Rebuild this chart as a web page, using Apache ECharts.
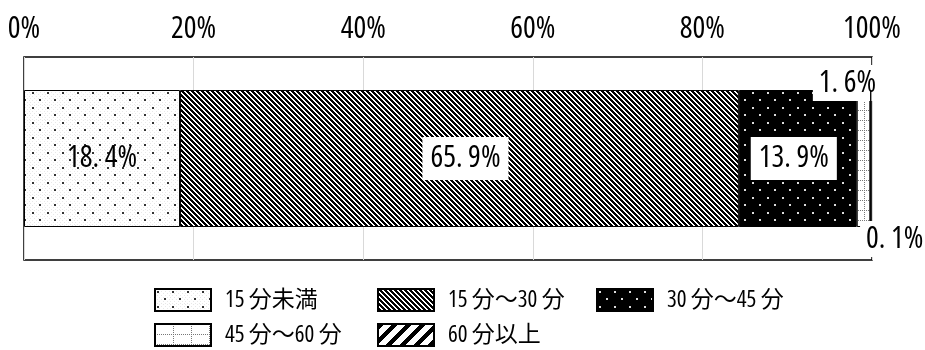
<!DOCTYPE html>
<html>
<head>
<meta charset="utf-8">
<script src="https://cdn.jsdelivr.net/npm/echarts@6/dist/echarts.min.js"></script>
<style>html,body{margin:0;padding:0;background:#fff}#c{width:925px;height:350px}</style>
</head>
<body>
<div id="c"></div>
<script>
const categories = ['通勤時間'];
const seriesNames = ['15 分未満', '15 分～30 分', '30 分～45 分', '45 分～60 分', '60 分以上'];
const under15 = [18.4];
const from15to30 = [65.9];
const from30to45 = [13.9];
const from45to60 = [1.6];
const over60 = [0.1];
const tickLabels = ['0%', '20%', '40%', '60%', '80%', '100%'];

const FONT = "'Open Sans','Noto Sans CJK JP',sans-serif";
const STRETCH = 'condensed';

function makePattern(w, h, draw) {
  const c = document.createElement('canvas');
  c.width = w; c.height = h;
  const ctx = c.getContext('2d');
  draw(ctx, w, h);
  return { image: c, repeat: 'repeat' };
}
function px(ctx, x, y, col, s) { ctx.fillStyle = col; ctx.fillRect(x, y, s || 1, s || 1); }

const patLight = makePattern(15, 15, (ctx, w, h) => {
  ctx.fillStyle = '#fff'; ctx.fillRect(0, 0, w, h);
  for (let y = 0; y < h; y++) for (let x = 0; x < w; x++) if ((x + y) % 4 === 0 && (x - y + 60) % 4 === 0) px(ctx, x, y, '#e8e8e8');
  px(ctx, 2, 2, '#333', 2); px(ctx, 9, 9, '#333', 2);
});
const patFine = makePattern(5, 5, (ctx, w, h) => {
  ctx.fillStyle = '#fff'; ctx.fillRect(0, 0, w, h);
  for (let y = 0; y < h; y++) for (let x = 0; x < w; x++) if (((x - y) % 5 + 5) % 5 < 3) px(ctx, x, y, '#000');
});
const patDark = makePattern(15, 15, (ctx, w, h) => {
  ctx.fillStyle = '#000'; ctx.fillRect(0, 0, w, h);
  px(ctx, 2, 2, '#ddd', 2); px(ctx, 9, 9, '#ddd', 2);
});
const patGrid = makePattern(18, 10, (ctx, w, h) => {
  ctx.fillStyle = '#fff'; ctx.fillRect(0, 0, w, h);
  for (let x = 0; x < w; x += 2) px(ctx, x, 0, '#777');
  for (let y = 0; y < h; y += 2) px(ctx, 0, y, '#777');
});
const patWide = makePattern(14, 14, (ctx, w, h) => {
  ctx.fillStyle = '#fff'; ctx.fillRect(0, 0, w, h);
  for (let y = 0; y < h; y++) for (let x = 0; x < w; x++) if ((x + y) % 14 < 6) px(ctx, x, y, '#000');
});

const fmt = p => p.value.toFixed(1).replace('.', '. ') + '%';
const boxLabel = {
  show: true, formatter: fmt, color: '#000', fontFamily: FONT, fontWeight: STRETCH, fontSize: 30,
  lineHeight: 27, backgroundColor: '#fff', padding: [8, 8]
};

const dataSets = [under15, from15to30, from30to45, from45to60, over60];
const patterns = [patLight, patFine, patDark, patGrid, patWide];
const labels = [
  { show: true, formatter: fmt, color: '#000', fontFamily: FONT, fontWeight: STRETCH, fontSize: 30, position: 'inside' },
  Object.assign({}, boxLabel, { position: 'inside', offset: [6, 0] }),
  Object.assign({}, boxLabel, { position: 'inside', offset: [-4, 0] }),
  Object.assign({}, boxLabel, { position: 'top', distance: 0, padding: [4, 6], lineHeight: 28, offset: [-16, 11] }),
  Object.assign({}, boxLabel, { position: 'bottom', distance: 0, padding: [4, 6], lineHeight: 28, offset: [24, -6] })
];

const series = seriesNames.map((name, i) => ({
  name, type: 'bar', stack: 'total', barWidth: 137,
  data: dataSets[i],
  itemStyle: { color: patterns[i], borderColor: '#000', borderWidth: 1 },
  label: labels[i],
  emphasis: { disabled: true },
  z: 2 + i
}));

const legendPos = [
  { left: 154, top: 288 }, { left: 377, top: 288 }, { left: 596, top: 288 },
  { left: 154, top: 323 }, { left: 377, top: 323 }
];
const legends = seriesNames.map((name, i) => ({
  data: [{ name, icon: 'rect' }], left: legendPos[i].left, top: legendPos[i].top, padding: 0,
  itemWidth: 56, itemHeight: 22, selectedMode: false,
  itemStyle: { borderColor: '#000', borderWidth: 2 },
  textStyle: { color: '#000', fontFamily: FONT, fontWeight: STRETCH, fontSize: 23, padding: [0, 0, 0, 9] }
}));

const chart = echarts.init(document.getElementById('c'), null, { renderer: 'canvas' });
chart.setOption({
  animation: false,
  backgroundColor: '#fff',
  grid: { left: 24, right: 53, top: 57, bottom: 90, show: true, borderColor: '#000', borderWidth: 1.5, backgroundColor: 'transparent' },
  xAxis: {
    type: 'value', position: 'top', min: 0, max: 100, interval: 20,
    axisLine: { show: false }, axisTick: { show: false },
    splitLine: { show: true, lineStyle: { color: '#d9d9d9', width: 1 } },
    axisLabel: { color: '#000', fontFamily: FONT, fontWeight: STRETCH, fontSize: 30, margin: 13,
      formatter: v => tickLabels[Math.round(v / 20)] }
  },
  yAxis: { type: 'category', data: categories, show: false },
  legend: legends,
  series
});
</script>
</body>
</html>
